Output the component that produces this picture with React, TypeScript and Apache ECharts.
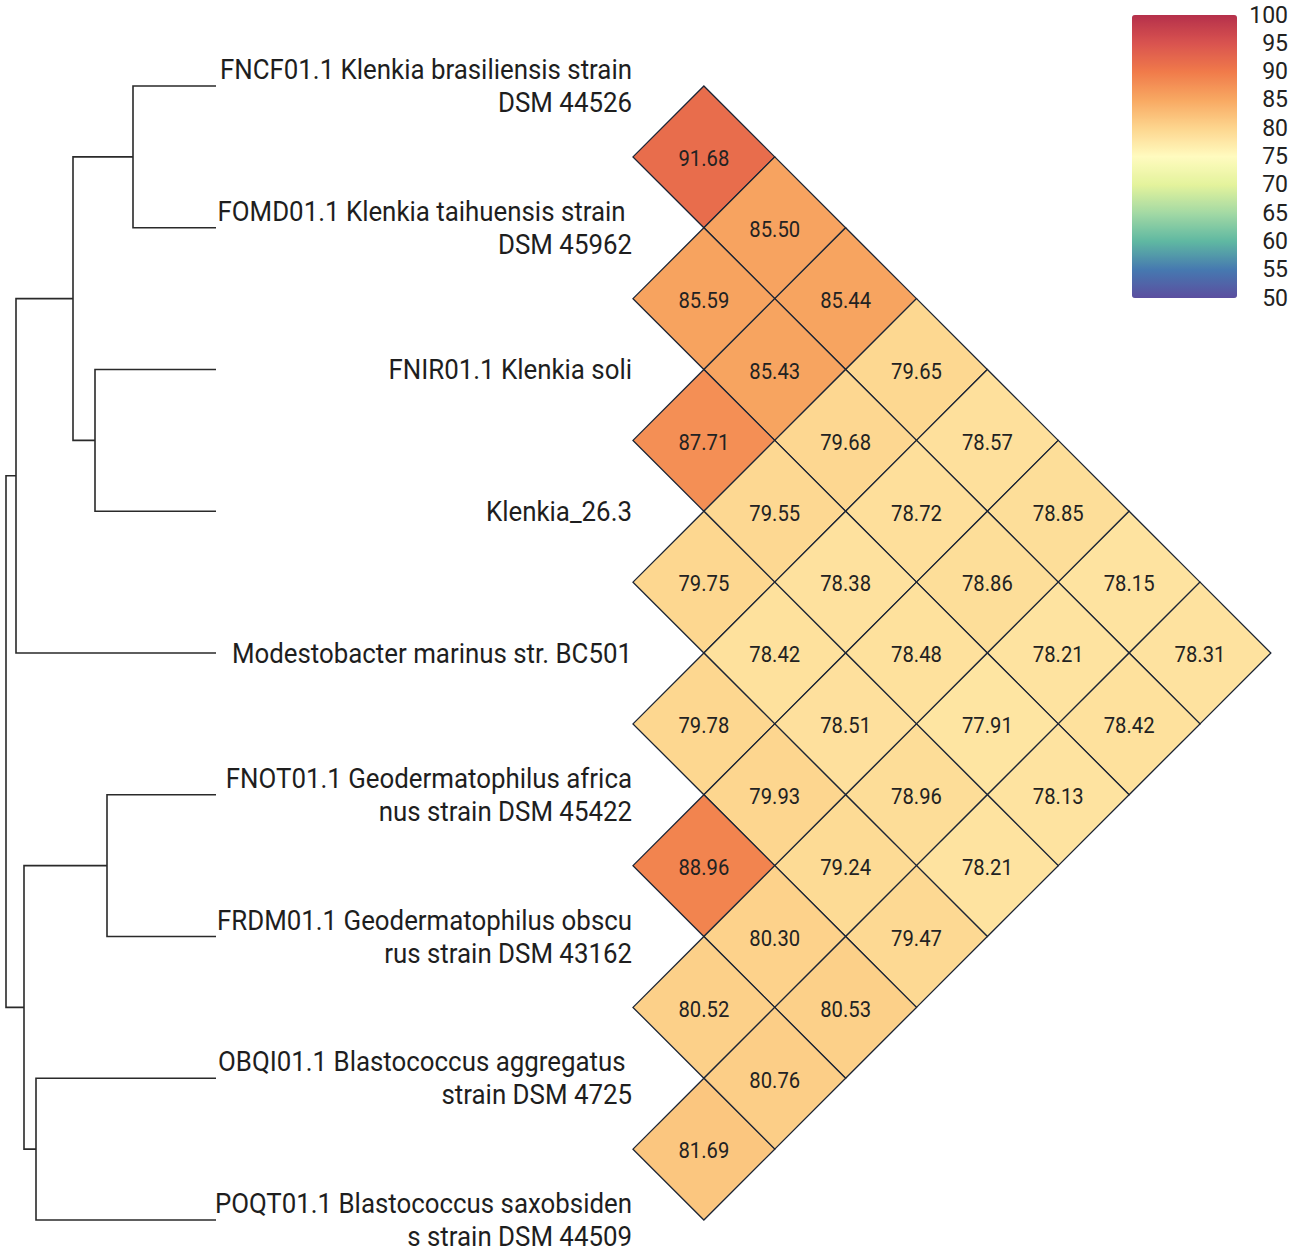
import React, { useEffect, useRef } from "react";
import * as echarts from "echarts";

// ---- Data ----
const LEAF_LABELS: string[] = [
  "FNCF01.1 Klenkia brasiliensis strain\nDSM 44526",
  "FOMD01.1 Klenkia taihuensis strain \nDSM 45962",
  "FNIR01.1 Klenkia soli",
  "Klenkia_26.3",
  "Modestobacter marinus str. BC501",
  "FNOT01.1 Geodermatophilus africa\nnus strain DSM 45422",
  "FRDM01.1 Geodermatophilus obscu\nrus strain DSM 43162",
  "OBQI01.1 Blastococcus aggregatus \nstrain DSM 4725",
  "POQT01.1 Blastococcus saxobsiden\ns strain DSM 44509",
];

// Linkage: merge k creates node (leafCount + k)
const MERGE_LEFT: number[] = [0, 2, 9, 11, 5, 7, 13, 12];
const MERGE_RIGHT: number[] = [1, 3, 10, 4, 6, 8, 14, 15];
const MERGE_HEIGHT: number[] = [83, 121, 143, 200, 109, 180, 192, 210];

// ANI values, upper triangle: row i holds leaf i vs leaves i+1..8
const ANI_ROWS: number[][] = [
  [91.68, 85.5, 85.44, 79.65, 78.57, 78.85, 78.15, 78.31],
  [85.59, 85.43, 79.68, 78.72, 78.86, 78.21, 78.42],
  [87.71, 79.55, 78.38, 78.48, 77.91, 78.13],
  [79.75, 78.42, 78.51, 78.96, 78.21],
  [79.78, 79.93, 79.24, 79.47],
  [88.96, 80.3, 80.53],
  [80.52, 80.76],
  [81.69],
];

const COLOR_MIN = 50;
const COLOR_MAX = 100;
const COLOR_STEP = 5;
const COLOR_STOPS: string[] = [
  "#5b4e9f",
  "#4679b0",
  "#5fb8a2",
  "#a3d9a4",
  "#e4f39c",
  "#fffbbf",
  "#fdd58e",
  "#f8a862",
  "#f07a4a",
  "#d9534f",
  "#b5304b",
];

const FONT = "Roboto, 'Noto Sans', sans-serif";

export default function App() {
  const ref = useRef<HTMLDivElement>(null);

  useEffect(() => {
    if (!ref.current) return;
    const chart = echarts.init(ref.current, undefined, { renderer: "svg" });

    const leafCount = LEAF_LABELS.length;
    const nodeY: number[] = LEAF_LABELS.map((_, i) => i);
    const nodeH: number[] = LEAF_LABELS.map(() => 0);
    const dendroData = MERGE_HEIGHT.map((h, k) => {
      const l = MERGE_LEFT[k];
      const r = MERGE_RIGHT[k];
      const y = (nodeY[l] + nodeY[r]) / 2;
      nodeY.push(y);
      nodeH.push(h);
      return [h, nodeY[l], nodeH[l], nodeY[r], nodeH[r]];
    });

    const heatData: number[][] = [];
    ANI_ROWS.forEach((row, i) => {
      row.forEach((v, k) => {
        const j = i + 1 + k;
        heatData.push([j - i, (i + j) / 2, v]);
      });
    });

    const labelData = LEAF_LABELS.map((_, i) => [0, i]);
    const dendroMax = Math.max(...MERGE_HEIGHT);

    const option: any = {
      animation: false,
      grid: [
        { left: 6, top: 86, width: 210, height: 1134 },
        { left: 633, top: 86, width: 567, height: 1134 },
        { left: 1132, top: 15, width: 105, height: 283 },
      ],
      xAxis: [
        { type: "value", gridIndex: 0, min: 0, max: dendroMax, inverse: true, show: false },
        { type: "value", gridIndex: 1, min: 0, max: leafCount - 1, show: false },
        { type: "value", gridIndex: 2, min: 0, max: 1, show: false },
      ],
      yAxis: [
        { type: "value", gridIndex: 0, min: 0, max: leafCount - 1, inverse: true, show: false },
        { type: "value", gridIndex: 1, min: 0, max: leafCount - 1, inverse: true, show: false },
        {
          type: "value",
          gridIndex: 2,
          position: "right",
          min: COLOR_MIN,
          max: COLOR_MAX,
          interval: COLOR_STEP,
          axisLine: { show: false },
          axisTick: { show: false },
          splitLine: { show: false },
          axisLabel: {
            align: "right",
            margin: 51,
            fontSize: 23,
            fontFamily: FONT,
            color: "#222",
          },
        },
      ],
      visualMap: {
        type: "continuous",
        min: COLOR_MIN,
        max: COLOR_MAX,
        dimension: 2,
        seriesIndex: 2,
        calculable: false,
        hoverLink: false,
        left: 1132,
        top: 15,
        padding: 0,
        itemWidth: 105,
        itemHeight: 283,
        inRange: { color: COLOR_STOPS },
      },
      series: [
        {
          type: "custom",
          xAxisIndex: 0,
          yAxisIndex: 0,
          data: dendroData,
          silent: true,
          renderItem: (_params: any, api: any) => {
            const h = api.value(0);
            const yl = api.value(1);
            const hl = api.value(2);
            const yr = api.value(3);
            const hr = api.value(4);
            const pts = [
              [hl, yl],
              [h, yl],
              [h, yr],
              [hr, yr],
            ].map((p) => api.coord(p));
            return {
              type: "polyline",
              shape: { points: pts },
              style: { stroke: "#2a2a2a", lineWidth: 1.6, fill: null },
            };
          },
        },
        {
          type: "custom",
          xAxisIndex: 1,
          yAxisIndex: 1,
          data: labelData,
          silent: true,
          renderItem: (params: any, api: any) => {
            const c = api.coord([api.value(0), api.value(1)]);
            return {
              type: "text",
              x: c[0] - 1,
              y: c[1],
              scaleX: 0.958,
              style: {
                text: LEAF_LABELS[params.dataIndex],
                fontSize: 27,
                fontFamily: FONT,
                fill: "#1e1e1e",
                align: "right",
                verticalAlign: "middle",
                lineHeight: 33,
              },
            };
          },
        },
        {
          type: "custom",
          xAxisIndex: 1,
          yAxisIndex: 1,
          data: heatData,
          silent: true,
          renderItem: (_params: any, api: any) => {
            const d = api.value(0);
            const m = api.value(1);
            const v = api.value(2);
            const pts = [
              [d - 1, m],
              [d, m - 0.5],
              [d + 1, m],
              [d, m + 0.5],
            ].map((p) => api.coord(p));
            const c = api.coord([d, m]);
            return {
              type: "group",
              children: [
                {
                  type: "polygon",
                  shape: { points: pts },
                  style: { fill: api.visual("color"), stroke: "#1c2535", lineWidth: 1.3 },
                },
                {
                  type: "text",
                  x: c[0],
                  y: c[1] + 1.5,
                  scaleX: 0.92,
                  style: {
                    text: Number(v).toFixed(2),
                    fontSize: 22,
                    fontFamily: FONT,
                    fill: "#222",
                    align: "center",
                    verticalAlign: "middle",
                  },
                },
              ],
            };
          },
        },
      ],
    };

    chart.setOption(option);
    return () => {
      chart.dispose();
    };
  }, []);

  return (
    <div
      ref={ref}
      style={{ position: "absolute", left: 0, top: 0, width: 1292, height: 1252, background: "#fff" }}
    />
  );
}
